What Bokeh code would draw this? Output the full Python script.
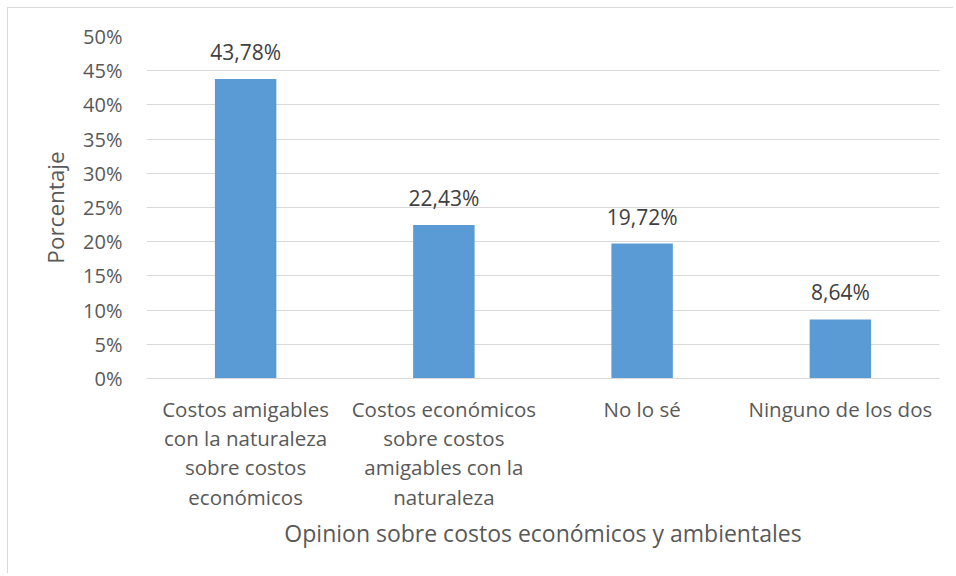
from bokeh.plotting import figure
from bokeh.models import ColumnDataSource, NumeralTickFormatter, FixedTicker, LabelSet, Range1d
from bokeh.core.properties import value
from bokeh.embed import file_html
from bokeh.resources import INLINE

categories = [
    "Costos amigables\ncon la naturaleza\nsobre costos\neconómicos",
    "Costos económicos\nsobre costos\namigables con la\nnaturaleza",
    "No lo sé",
    "Ninguno de los dos",
]
values = [0.4378, 0.2243, 0.1972, 0.0864]
value_labels = ["43,78%", "22,43%", "19,72%", "8,64%"]
y_ticks = [0, 0.05, 0.10, 0.15, 0.20, 0.25, 0.30, 0.35, 0.40, 0.45, 0.50]

FONT = "Open Sans"
TXT = "#595959"
GRID = "#d9d9d9"

src = ColumnDataSource(dict(cat=categories, val=values, lab=value_labels))

W, H = 946, 566
p = figure(x_range=categories, y_range=Range1d(0, 0.5), width=W, height=H,
           output_backend="svg", toolbar_location=None,
           min_border_left=138, min_border_right=W - 931, min_border_top=28,
           min_border_bottom=H - 370)
p.margin = (7, 0, 0, 7)
p.outline_line_color = None
p.vbar(x="cat", top="val", width=0.31, source=src, fill_color="#5b9bd5", line_color=None)

labels = LabelSet(x="cat", y="val", text="lab", source=src, text_align="center",
                  text_baseline="bottom", y_offset=13, text_font=value(FONT),
                  text_font_size="21px", text_color="#404040")
p.add_layout(labels)

p.yaxis.ticker = FixedTicker(ticks=y_ticks)
p.yaxis.formatter = NumeralTickFormatter(format="0%")
p.yaxis.axis_line_color = None
p.yaxis.major_tick_line_color = None
p.yaxis.minor_tick_line_color = None
p.yaxis.major_label_standoff = 18
p.yaxis.major_label_text_font = FONT
p.yaxis.major_label_text_font_size = "20px"
p.yaxis.major_label_text_color = TXT
p.yaxis.axis_label = "Porcentaje"
p.yaxis.axis_label_text_font = FONT
p.yaxis.axis_label_text_font_size = "22.5px"
p.yaxis.axis_label_text_font_style = "normal"
p.yaxis.axis_label_text_color = TXT
p.yaxis.axis_label_standoff = 9

p.xaxis.axis_line_color = GRID
p.xaxis.axis_line_width = 1
p.xaxis.major_tick_line_color = None
p.xaxis.minor_tick_line_color = None
p.xaxis.major_label_standoff = 10
p.xaxis.major_label_text_font = FONT
p.xaxis.major_label_text_font_size = "20.5px"
p.xaxis.major_label_text_color = TXT
p.xaxis.major_label_text_line_height = 1.05
p.xaxis.axis_label = "Opinion sobre costos económicos y ambientales"
p.xaxis.axis_label_text_font = FONT
p.xaxis.axis_label_text_font_size = "23px"
p.xaxis.axis_label_text_font_style = "normal"
p.xaxis.axis_label_text_color = TXT
p.xaxis.axis_label_standoff = 3

p.xgrid.grid_line_color = None
p.ygrid.grid_line_color = GRID
p.ygrid.grid_line_width = 1

p.border_fill_color = "white"
p.background_fill_color = "white"
p.styles = {"border-left": "1px solid #d9d9d9", "border-top": "1px solid #d9d9d9"}

open("out.html", "w").write(file_html(p, INLINE))
